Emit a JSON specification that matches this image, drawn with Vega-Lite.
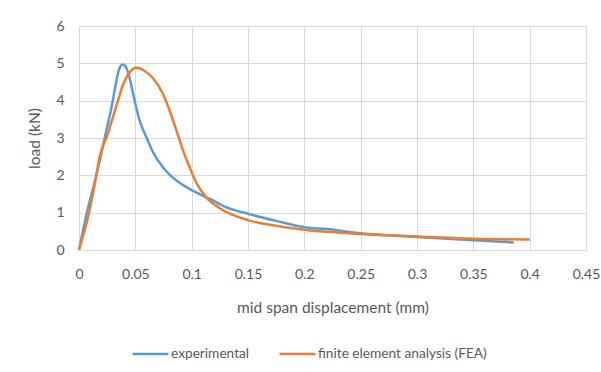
{
  "$schema": "https://vega.github.io/schema/vega-lite/v6.json",
  "autosize": "none",
  "width": 507,
  "height": 224,
  "padding": {"left": 79, "top": 26, "right": 15, "bottom": 122},
  "background": "white",
  "config": {
    "font": "Lato",
    "view": {"stroke": null},
    "axis": {
      "labelFont": "Lato", "titleFont": "Lato",
      "labelFontSize": 14, "titleFontSize": 15.5,
      "labelColor": "#595959", "titleColor": "#595959",
      "titleFontWeight": "normal",
      "gridColor": "#D9D9D9", "gridWidth": 1,
      "domain": false, "ticks": false
    },
    "legend": {
      "labelFont": "Lato", "labelFontSize": 13.7, "labelColor": "#595959"
    }
  },
  "data": {
    "values": [
      {"series": "experimental", "x": 0, "y": 0},
      {"series": "experimental", "x": 0.007, "y": 1.0},
      {"series": "experimental", "x": 0.0154, "y": 2.0},
      {"series": "experimental", "x": 0.0228, "y": 3.0},
      {"series": "experimental", "x": 0.030, "y": 4.0},
      {"series": "experimental", "x": 0.033, "y": 4.5},
      {"series": "experimental", "x": 0.035, "y": 4.78},
      {"series": "experimental", "x": 0.037, "y": 4.93},
      {"series": "experimental", "x": 0.039, "y": 4.97},
      {"series": "experimental", "x": 0.042, "y": 4.88},
      {"series": "experimental", "x": 0.045, "y": 4.6},
      {"series": "experimental", "x": 0.048, "y": 4.18},
      {"series": "experimental", "x": 0.0539, "y": 3.46},
      {"series": "experimental", "x": 0.0598, "y": 3.02},
      {"series": "experimental", "x": 0.0657, "y": 2.62},
      {"series": "experimental", "x": 0.0746, "y": 2.21},
      {"series": "experimental", "x": 0.0865, "y": 1.86},
      {"series": "experimental", "x": 0.101, "y": 1.59},
      {"series": "experimental", "x": 0.116, "y": 1.37},
      {"series": "experimental", "x": 0.131, "y": 1.14},
      {"series": "experimental", "x": 0.15, "y": 0.97},
      {"series": "experimental", "x": 0.175, "y": 0.78},
      {"series": "experimental", "x": 0.2, "y": 0.61},
      {"series": "experimental", "x": 0.22, "y": 0.56},
      {"series": "experimental", "x": 0.25, "y": 0.45},
      {"series": "experimental", "x": 0.3, "y": 0.35},
      {"series": "experimental", "x": 0.35, "y": 0.26},
      {"series": "experimental", "x": 0.386, "y": 0.2},
      {"series": "finite element analysis (FEA)", "x": 0, "y": 0},
      {"series": "finite element analysis (FEA)", "x": 0.0089, "y": 1.0},
      {"series": "finite element analysis (FEA)", "x": 0.0154, "y": 2.0},
      {"series": "finite element analysis (FEA)", "x": 0.017, "y": 2.3},
      {"series": "finite element analysis (FEA)", "x": 0.026, "y": 3.15},
      {"series": "finite element analysis (FEA)", "x": 0.0346, "y": 4.0},
      {"series": "finite element analysis (FEA)", "x": 0.039, "y": 4.42},
      {"series": "finite element analysis (FEA)", "x": 0.045, "y": 4.76},
      {"series": "finite element analysis (FEA)", "x": 0.051, "y": 4.88},
      {"series": "finite element analysis (FEA)", "x": 0.058, "y": 4.8},
      {"series": "finite element analysis (FEA)", "x": 0.0657, "y": 4.6},
      {"series": "finite element analysis (FEA)", "x": 0.0746, "y": 4.18},
      {"series": "finite element analysis (FEA)", "x": 0.0805, "y": 3.73},
      {"series": "finite element analysis (FEA)", "x": 0.0865, "y": 3.2},
      {"series": "finite element analysis (FEA)", "x": 0.0924, "y": 2.66},
      {"series": "finite element analysis (FEA)", "x": 0.0983, "y": 2.21},
      {"series": "finite element analysis (FEA)", "x": 0.104, "y": 1.81},
      {"series": "finite element analysis (FEA)", "x": 0.113, "y": 1.41},
      {"series": "finite element analysis (FEA)", "x": 0.125, "y": 1.12},
      {"series": "finite element analysis (FEA)", "x": 0.15, "y": 0.8},
      {"series": "finite element analysis (FEA)", "x": 0.175, "y": 0.65},
      {"series": "finite element analysis (FEA)", "x": 0.2, "y": 0.54},
      {"series": "finite element analysis (FEA)", "x": 0.25, "y": 0.43},
      {"series": "finite element analysis (FEA)", "x": 0.3, "y": 0.36},
      {"series": "finite element analysis (FEA)", "x": 0.35, "y": 0.3},
      {"series": "finite element analysis (FEA)", "x": 0.4, "y": 0.28}
    ]
  },
  "mark": {"type": "line", "strokeWidth": 2.5, "interpolate": "monotone"},
  "encoding": {
    "x": {
      "field": "x", "type": "quantitative",
      "scale": {"domain": [0, 0.45], "nice": false, "zero": true},
      "axis": {"values": [0, 0.05, 0.1, 0.15, 0.2, 0.25, 0.3, 0.35, 0.4, 0.45], "format": "~g", "labelPadding": 17, "labelFlush": false, "labelOverlap": false, "title": "mid span displacement (mm)", "titlePadding": 19}
    },
    "y": {
      "field": "y", "type": "quantitative",
      "scale": {"domain": [0, 6], "nice": false},
      "axis": {"values": [0, 1, 2, 3, 4, 5, 6], "format": "~g", "labelPadding": 15, "title": "load (kN)", "titlePadding": 13}
    },
    "color": {
      "field": "series", "type": "nominal",
      "scale": {"domain": ["experimental", "finite element analysis (FEA)"], "range": ["#5B9BD5", "#ED7D31"]},
      "legend": {
        "title": null, "orient": "none", "direction": "horizontal",
        "legendX": 52, "legendY": 308,
        "symbolType": "stroke", "symbolSize": 1296, "symbolStrokeWidth": 2.5,
        "labelOffset": 1, "columnPadding": 24, "labelLimit": 400
      }
    },
    "order": {"field": "x", "type": "quantitative"}
  }
}
